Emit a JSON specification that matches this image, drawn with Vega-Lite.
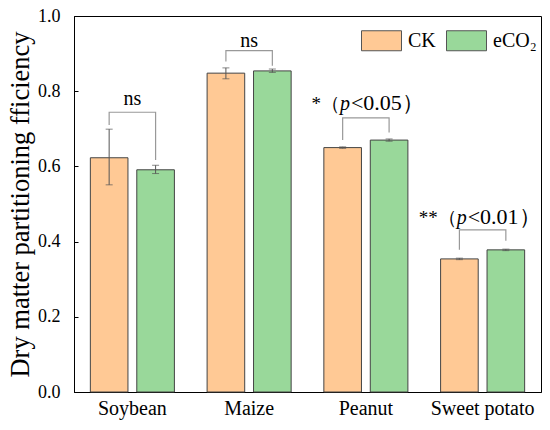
{
  "$schema": "https://vega.github.io/schema/vega-lite/v6.json",
  "autosize": {"type": "none"},
  "padding": {"left": 74, "top": 16, "right": 9, "bottom": 38},
  "width": 467,
  "height": 376,
  "config": {
    "font": "Liberation Serif",
    "view": {"stroke": "#000", "strokeWidth": 1},
    "text": {"font": "Liberation Serif"},
    "axis": {"labelFont": "Liberation Serif", "titleFont": "Liberation Serif"},
    "legend": {"labelFont": "Liberation Serif"}
  },
  "datasets": {
    "bars": [
      {"crop": "Soybean", "group": "CK", "value": 0.623, "lo": 0.551, "hi": 0.699},
      {"crop": "Soybean", "group": "eCO₂", "value": 0.591, "lo": 0.581, "hi": 0.603},
      {"crop": "Maize", "group": "CK", "value": 0.848, "lo": 0.833, "hi": 0.862},
      {"crop": "Maize", "group": "eCO₂", "value": 0.854, "lo": 0.850, "hi": 0.859},
      {"crop": "Peanut", "group": "CK", "value": 0.650, "lo": 0.648, "hi": 0.652},
      {"crop": "Peanut", "group": "eCO₂", "value": 0.670, "lo": 0.667, "hi": 0.673},
      {"crop": "Sweet potato", "group": "CK", "value": 0.354, "lo": 0.352, "hi": 0.356},
      {"crop": "Sweet potato", "group": "eCO₂", "value": 0.378, "lo": 0.376, "hi": 0.380}
    ],
    "brackets": [
      {"crop": "Soybean", "group": "CK", "step": 1, "y": 0.710},
      {"crop": "Soybean", "group": "CK", "step": 2, "y": 0.744},
      {"crop": "Soybean", "group": "eCO₂", "step": 3, "y": 0.744},
      {"crop": "Soybean", "group": "eCO₂", "step": 4, "y": 0.617},
      {"crop": "Maize", "group": "CK", "step": 1, "y": 0.879},
      {"crop": "Maize", "group": "CK", "step": 2, "y": 0.908},
      {"crop": "Maize", "group": "eCO₂", "step": 3, "y": 0.908},
      {"crop": "Maize", "group": "eCO₂", "step": 4, "y": 0.868},
      {"crop": "Peanut", "group": "CK", "step": 1, "y": 0.670},
      {"crop": "Peanut", "group": "CK", "step": 2, "y": 0.729},
      {"crop": "Peanut", "group": "eCO₂", "step": 3, "y": 0.729},
      {"crop": "Peanut", "group": "eCO₂", "step": 4, "y": 0.690},
      {"crop": "Sweet potato", "group": "CK", "step": 1, "y": 0.378},
      {"crop": "Sweet potato", "group": "CK", "step": 2, "y": 0.431},
      {"crop": "Sweet potato", "group": "eCO₂", "step": 3, "y": 0.431},
      {"crop": "Sweet potato", "group": "eCO₂", "step": 4, "y": 0.402}
    ],
    "ns": [
      {"crop": "Soybean", "y": 0.763, "label": "ns"},
      {"crop": "Maize", "y": 0.918, "label": "ns"}
    ],
    "sig": [
      {"crop": "Peanut", "y": 0.750, "pre": "*（", "p": "p", "post": "<0.05）"},
      {"crop": "Sweet potato", "y": 0.447, "pre": "**（", "p": "p", "post": "<0.01）"}
    ]
  },
  "encoding": {
    "x": {
      "field": "crop",
      "type": "nominal",
      "sort": ["Soybean", "Maize", "Peanut", "Sweet potato"],
      "scale": {"paddingInner": 0.28, "paddingOuter": 0.14},
      "axis": {
        "title": null,
        "labelAngle": 0,
        "labelFontSize": 20,
        "labelColor": "#000",
        "labelPadding": 6,
        "ticks": false,
        "domainColor": "#000"
      }
    }
  },
  "layer": [
    {
      "data": {"name": "bars"},
      "mark": {"type": "bar", "stroke": "#444", "strokeWidth": 1},
      "encoding": {
        "xOffset": {
          "field": "group",
          "type": "nominal",
          "sort": ["CK", "eCO₂"],
          "scale": {"paddingInner": 0.19, "paddingOuter": 0}
        },
        "y": {
          "field": "value",
          "type": "quantitative",
          "title": "Dry matter partitioning fficiency",
          "scale": {"domain": [0, 1], "nice": false},
          "axis": {
            "titleFontSize": 26.5,
            "titleFontWeight": "normal",
            "titleColor": "#000",
            "titlePadding": 3,
            "values": [0, 0.1, 0.2, 0.3, 0.4, 0.5, 0.6, 0.7, 0.8, 0.9, 1.0],
            "labelExpr": "round(datum.value * 10) % 2 == 0 ? format(datum.value, '.1f') : ''",
            "labelFontSize": 18,
            "labelColor": "#000",
            "labelPadding": 18,
            "tickSize": -4,
            "tickColor": "#000",
            "domainColor": "#000",
            "grid": false
          }
        },
        "color": {
          "field": "group",
          "type": "nominal",
          "sort": ["CK", "eCO₂"],
          "scale": {"range": ["#FFC995", "#99D89A"]},
          "legend": {
            "title": null,
            "orient": "top-right",
            "direction": "horizontal",
            "offset": 4,
            "padding": 0,
            "symbolType": "M-1,-0.5H1V0.5H-1Z",
            "symbolSize": 1600,
            "symbolStrokeColor": "#555",
            "symbolStrokeWidth": 1,
            "symbolOpacity": 1,
            "labelFontSize": 20,
            "labelColor": "#000",
            "labelOffset": 6,
            "columnPadding": 8
          }
        }
      }
    },
    {
      "data": {"name": "bars"},
      "mark": {"type": "errorbar", "color": "#555", "ticks": {"size": 7, "color": "#555"}},
      "encoding": {
        "xOffset": {"field": "group", "type": "nominal", "sort": ["CK", "eCO₂"]},
        "y": {"field": "lo", "type": "quantitative", "title": "Dry matter partitioning fficiency"},
        "y2": {"field": "hi"}
      }
    },
    {
      "data": {"name": "brackets"},
      "mark": {"type": "line", "color": "#999", "strokeWidth": 1.2},
      "encoding": {
        "xOffset": {"field": "group", "type": "nominal", "sort": ["CK", "eCO₂"]},
        "y": {"field": "y", "type": "quantitative", "title": "Dry matter partitioning fficiency"},
        "detail": {"field": "crop"},
        "order": {"field": "step"}
      }
    },
    {
      "data": {"name": "ns"},
      "mark": {"type": "text", "fontSize": 20, "baseline": "alphabetic", "color": "#000"},
      "encoding": {
        "y": {"field": "y", "type": "quantitative", "title": "Dry matter partitioning fficiency"},
        "text": {"field": "label"}
      }
    },
    {
      "data": {"name": "sig"},
      "mark": {"type": "text", "fontSize": 19, "baseline": "alphabetic", "align": "right", "dx": -26, "color": "#000"},
      "encoding": {
        "y": {"field": "y", "type": "quantitative", "title": "Dry matter partitioning fficiency"},
        "text": {"field": "pre"}
      }
    },
    {
      "data": {"name": "sig"},
      "mark": {"type": "text", "fontSize": 20, "fontStyle": "italic", "baseline": "alphabetic", "align": "center", "dx": -21, "color": "#000"},
      "encoding": {
        "y": {"field": "y", "type": "quantitative", "title": "Dry matter partitioning fficiency"},
        "text": {"field": "p"}
      }
    },
    {
      "data": {"name": "sig"},
      "mark": {"type": "text", "fontSize": 22, "baseline": "alphabetic", "align": "left", "dx": -15, "color": "#000"},
      "encoding": {
        "y": {"field": "y", "type": "quantitative", "title": "Dry matter partitioning fficiency"},
        "text": {"field": "post"}
      }
    }
  ]
}
